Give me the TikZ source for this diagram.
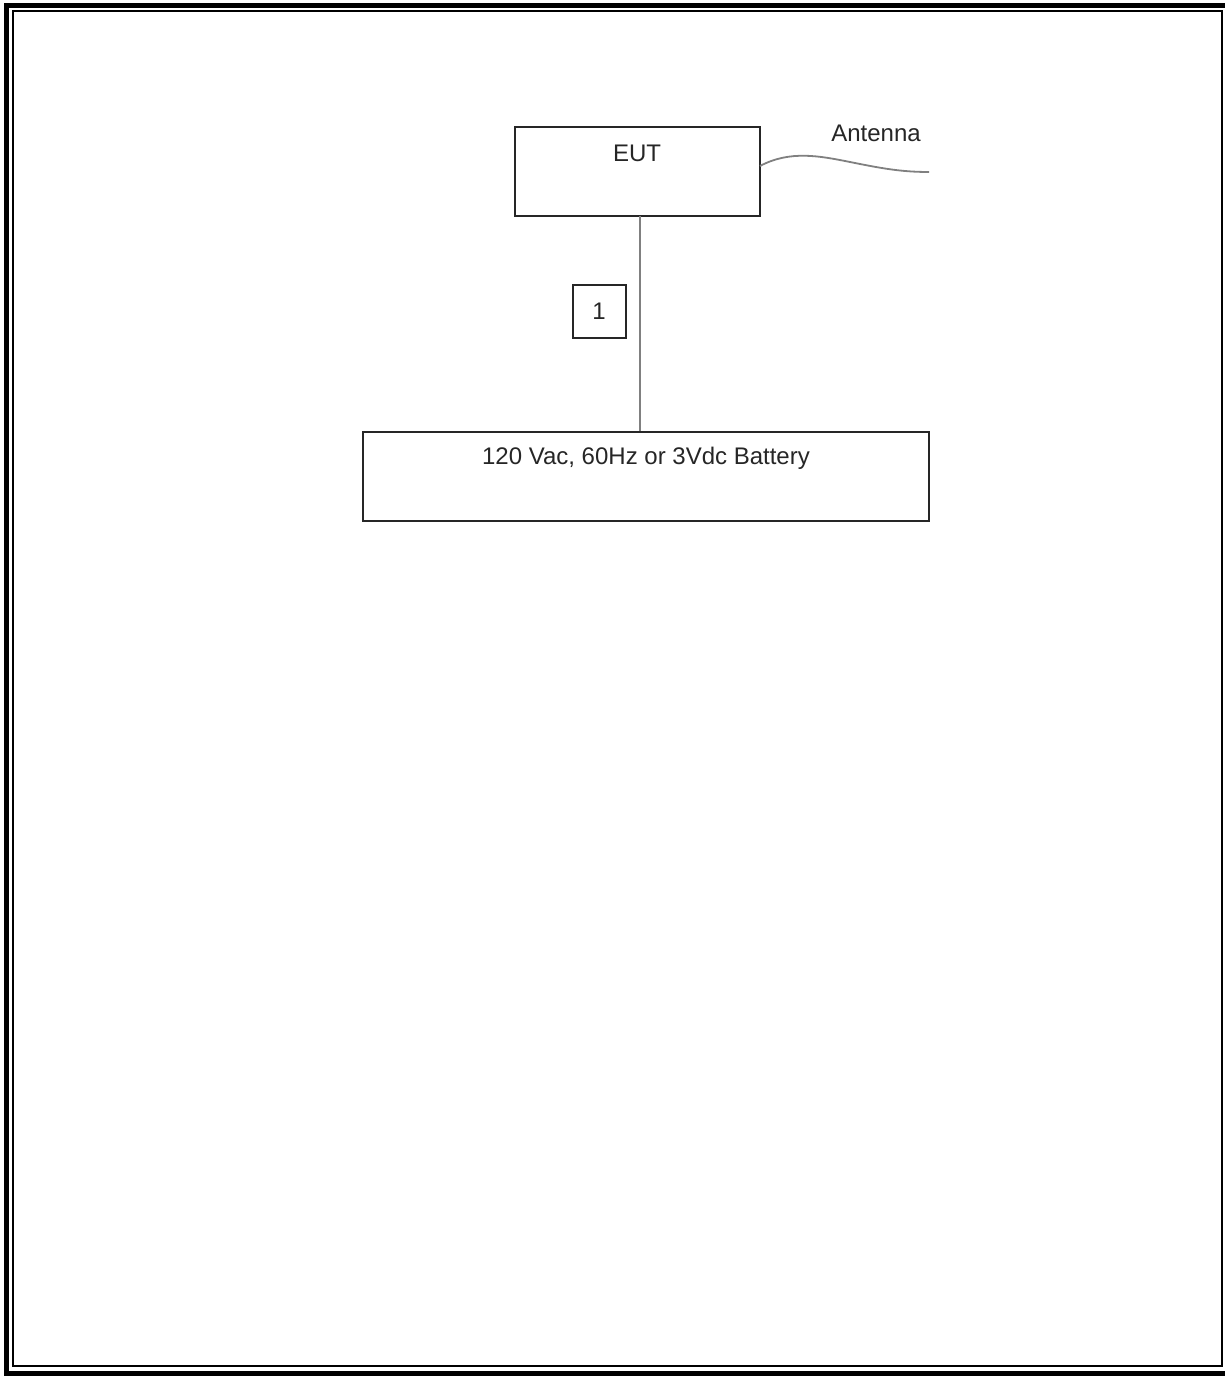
\documentclass[tikz,border=0pt]{standalone}
\usepackage{fontspec}
\setmainfont{Liberation Sans}
\begin{document}
\begin{tikzpicture}[x=1pt,y=-1pt,
  box/.style={draw=black!85,line width=2pt,inner sep=0pt,anchor=north west},
  lbl/.style={font=\fontsize{24}{28}\selectfont,text=black!85,inner sep=0pt},
  wire/.style={draw=black!50,line width=1.5pt}]
\useasboundingbox (0,0) rectangle (1225,1376);
\begin{scope}
\clip (0,0) rectangle (1225,1376);
\draw[line width=5pt] (6.5,5.5) rectangle (1232,1373);
\draw[line width=2pt] (13,11) rectangle (1221.5,1366);
\end{scope}
% boxes
\node[box,minimum width=245pt,minimum height=89pt] (eut) at (514,126) {};
\node[lbl] (eutt) at (637,153) {EUT};
\node[box,minimum width=566pt,minimum height=89pt] (bat) at (362,431) {};
\node[lbl] (batt) at (646,458) {120 Vac, 60Hz or 3Vdc Battery};
\node[box,minimum width=53pt,minimum height=53pt] (one) at (572,284) {};
\node[lbl] (onet) at (599,311) {1};
\node[lbl] (ant) at (876,133) {Antenna};
% connectors
\coordinate (top) at (640,216);
\draw[wire] (top) -- (top |- bat.north);
\coordinate (a0) at (760,166);
\coordinate (a1) at (929,172);
\draw[wire,line width=1.8pt] (a0) .. controls (790,150) and (820,156) .. (850,162) .. controls (880,168) and (900,172) .. (a1);
\end{tikzpicture}
\end{document}
